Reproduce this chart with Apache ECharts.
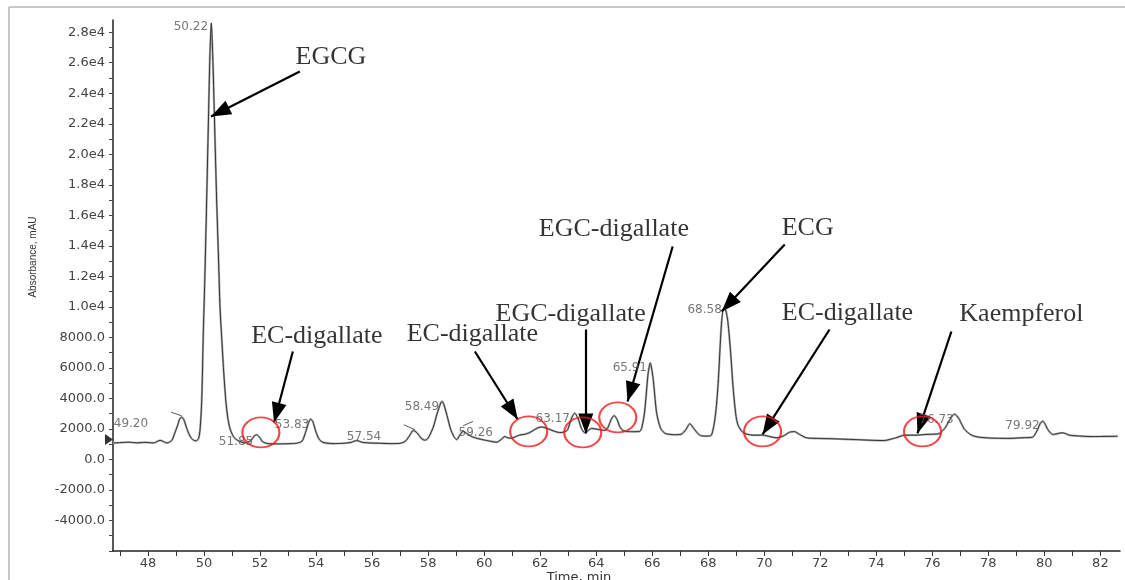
<!DOCTYPE html>
<html>
<head>
<meta charset="utf-8">
<title>Chromatogram</title>
<script src="https://cdn.jsdelivr.net/npm/echarts@6/dist/echarts.min.js"></script>
<style>
  html, body { margin: 0; padding: 0; background: #fff; }
  #chart { width: 1125px; height: 580px; }
</style>
</head>
<body>
<div id="chart"></div>
<script>
// retention time (min) and absorbance (mAU)
const times = [
  46.75, 47.0, 47.3, 47.6, 47.9, 48.2, 48.43, 48.68, 48.85, 48.95, 49.05, 49.12, 49.2, 49.28, 49.38, 49.48,
  49.58, 49.7, 49.8, 49.86, 49.92, 49.97, 50.0, 50.03, 50.1, 50.16, 50.21, 50.26, 50.31, 50.37, 50.45, 50.52,
  50.57, 50.63, 50.7, 50.78, 50.85, 50.93, 51.05, 51.2, 51.45, 51.65, 51.8, 51.88, 51.98, 52.1, 52.3, 52.7,
  53.0, 53.3, 53.5, 53.62, 53.72, 53.8, 53.88, 53.98, 54.1, 54.25, 54.6, 55.0, 55.25, 55.45, 55.65, 55.9,
  56.3, 56.7, 57.0, 57.2, 57.35, 57.47, 57.6, 57.75, 57.88, 58.0, 58.18, 58.32, 58.45, 58.5, 58.58, 58.7,
  58.8, 58.92, 59.02, 59.12, 59.25, 59.38, 59.55, 59.75, 59.96, 60.2, 60.45, 60.6, 60.74, 60.88, 61.03, 61.27,
  61.45, 61.63, 61.81, 62.04, 62.34, 62.5, 62.7, 62.85, 62.98, 63.1, 63.23, 63.35, 63.47, 63.59, 63.72, 63.83,
  64.07, 64.3, 64.42, 64.53, 64.64, 64.75, 64.84, 64.95, 65.08, 65.3, 65.55, 65.63, 65.73, 65.85, 65.93, 66.03,
  66.15, 66.25, 66.33, 66.45, 66.56, 66.8, 67.04, 67.2, 67.34, 67.51, 67.63, 67.75, 67.95, 68.11, 68.25, 68.35,
  68.47, 68.55, 68.62, 68.7, 68.8, 68.88, 68.98, 69.06, 69.24, 69.4, 69.6, 69.95, 70.2, 70.43, 70.6, 70.73,
  70.9, 71.08, 71.25, 71.5, 71.9, 72.33, 73.0, 73.4, 73.9, 74.29, 74.5, 74.71, 75.01, 75.42, 75.78, 76.1,
  76.25, 76.4, 76.49, 76.67, 76.79, 76.94, 77.05, 77.15, 77.39, 77.6, 77.92, 78.3, 78.75, 79.2, 79.58, 79.7,
  79.76, 79.85, 79.94, 80.03, 80.12, 80.3, 80.45, 80.63, 80.75, 80.89, 81.3, 81.72, 82.2, 82.62
];
const absorbance = [
  1080, 1100, 1130, 1090, 1120, 1080, 1250, 1080, 1250, 1700, 2200, 2600, 2780, 2600, 2050, 1600,
  1320, 1220, 1350, 2000, 4000, 8000, 10000, 12000, 17500, 22500, 26500, 28600, 26500, 22500, 17000, 13000,
  10000, 8000, 5800, 3800, 2700, 2000, 1500, 1250, 1080, 1200, 1550, 1620, 1450, 1150, 1040, 1020,
  1030, 1060, 1200, 1750, 2350, 2640, 2500, 1900, 1350, 1120, 1040, 1060, 1120, 1240, 1120, 1080,
  1060, 1040, 1060, 1220, 1600, 1900, 1750, 1400, 1260, 1400, 2100, 3000, 3700, 3800, 3500, 2700,
  2000, 1500, 1300, 1550, 1850, 1700, 1500, 1380, 1290, 1200, 1130, 1300, 1500, 1400, 1420, 1600,
  1650, 1760, 1970, 2130, 1970, 1850, 1760, 1800, 1950, 2600, 3030, 2700, 2050, 1760, 1900, 2030,
  1970, 1900, 2100, 2600, 2880, 2600, 2160, 1900, 1830, 1820, 1840, 2100, 3140, 5570, 6330, 5330,
  3140, 2300, 1950, 1720, 1660, 1620, 1660, 1950, 2340, 1970, 1700, 1550, 1530, 1580, 2800, 4890,
  8820, 9850, 9800, 9040, 7000, 4890, 3000, 2270, 1760, 1650, 1590, 1590, 1500, 1420, 1480, 1590,
  1780, 1830, 1650, 1420, 1380, 1360, 1320, 1290, 1250, 1240, 1320, 1420, 1590, 1590, 1640, 1660,
  1700, 1950, 2160, 2750, 2970, 2700, 2300, 1970, 1600, 1480, 1420, 1390, 1380, 1420, 1460, 1750,
  1970, 2350, 2510, 2300, 1970, 1640, 1680, 1750, 1700, 1590, 1530, 1500, 1510, 1520
];

// axis ticks and labels
const xTicks = [47, 48, 49, 50, 51, 52, 53, 54, 55, 56, 57, 58, 59, 60, 61, 62, 63, 64, 65, 66, 67, 68,
  69, 70, 71, 72, 73, 74, 75, 76, 77, 78, 79, 80, 81, 82];
const xTickLabels = [48, 50, 52, 54, 56, 58, 60, 62, 64, 66, 68, 70, 72, 74, 76, 78, 80, 82];
const yTicks = [-6000, -5000, -4000, -3000, -2000, -1000, 0, 1000, 2000, 3000, 4000, 5000, 6000, 7000,
  8000, 9000, 10000, 11000, 12000, 13000, 14000, 15000, 16000, 17000, 18000, 19000, 20000, 21000,
  22000, 23000, 24000, 25000, 26000, 27000, 28000];
const yTickLabels = [-4000, -2000, 0, 2000, 4000, 6000, 8000, 10000, 12000, 14000, 16000, 18000, 20000,
  22000, 24000, 26000, 28000];

// integrator peak labels (text anchor in data coords)
const peakNames = ['49.20', '50.22', '51.85', '53.83', '57.54', '58.49', '59.26', '63.17', '65.91', '68.58', '76.73', '79.92'];
const peakLabelPos = [[47.39, 2358], [49.53, 28363], [51.14, 1179], [53.14, 2293], [55.71, 1507], [57.78, 3472],
  [59.70, 1769], [62.45, 2686], [65.20, 6027], [67.87, 9826], [76.15, 2620], [79.22, 2227]];

// integration baseline ticks
const baselineMarks = [
  [[48.82, 3100], [49.2, 2860]],
  [[57.13, 2270], [57.53, 1950]],
  [[59.25, 2210], [59.6, 2490]]
];

// compound annotations
const compounds = ['EGCG', 'EC-digallate', 'EC-digallate', 'EGC-digallate', 'EGC-digallate', 'ECG', 'EC-digallate', 'Kaempferol'];
const compoundPos = [[54.53, 26335], [54.03, 8058], [59.58, 8190], [63.09, 9499], [64.63, 15067], [71.55, 15133],
  [72.97, 9565], [79.18, 9499]];
const arrowFrom = [[53.42, 25418], [53.17, 7075], [59.67, 7075], [63.63, 8516], [66.73, 13954], [70.73, 14085],
  [72.33, 8516], [76.68, 8385]];
const arrowTo = [[50.25, 22470], [52.50, 2424], [61.20, 2620], [63.63, 1703], [65.12, 3800], [68.48, 9695],
  [69.94, 1638], [75.47, 1703]];

// red circled regions
const circles = [[52.03, 1769], [61.59, 1834], [63.52, 1769], [64.77, 2752], [69.94, 1834], [75.65, 1834]];

const trace = times.map((t, i) => [t, absorbance[i]]);

const yFmt = (v) => (Math.abs(v) >= 10000 ? (v / 10000).toFixed(1) + 'e4' : v.toFixed(1));

const chart = echarts.init(document.getElementById('chart'));

chart.setOption({
  animation: false,
  backgroundColor: '#fff',
  grid: { left: 113, right: 5, top: 20, bottom: 29 },
  xAxis: {
    type: 'value',
    min: 46.75,
    max: 82.7,
    axisLine: { show: true, onZero: false, lineStyle: { color: '#222', width: 1.5 } },
    axisTick: { show: true, customValues: xTicks, length: 5, lineStyle: { color: '#333' } },
    axisLabel: {
      customValues: xTickLabels, margin: 6,
      fontFamily: 'DejaVu Sans', fontSize: 13, color: '#444'
    },
    splitLine: { show: false }
  },
  yAxis: {
    type: 'value',
    min: -6000,
    max: 28800,
    axisLine: { show: true, onZero: false, lineStyle: { color: '#222', width: 1.5 } },
    axisTick: { show: true, customValues: yTicks, length: 4, lineStyle: { color: '#444' } },
    axisLabel: {
      customValues: yTickLabels, margin: 8, formatter: yFmt,
      fontFamily: 'DejaVu Sans', fontSize: 13, color: '#444'
    },
    splitLine: { show: false }
  },
  graphic: [
    { type: 'line', shape: { x1: 9, y1: 7, x2: 1125, y2: 7 }, style: { stroke: '#c8c8c8', lineWidth: 2 } },
    { type: 'line', shape: { x1: 9, y1: 7, x2: 9, y2: 580 }, style: { stroke: '#c8c8c8', lineWidth: 2 } },
    {
      type: 'text', x: 33, y: 257, rotation: Math.PI / 2,
      style: {
        text: 'Absorbance, mAU', fill: '#333', align: 'center', verticalAlign: 'middle',
        font: '10px "Liberation Sans Narrow", "Liberation Sans", sans-serif'
      }
    },
    {
      type: 'text', x: 579, y: 578,
      style: {
        text: 'Time, min', fill: '#333', align: 'center', verticalAlign: 'middle',
        font: '13px "DejaVu Sans", sans-serif'
      }
    }
  ],
  series: [
    {
      type: 'line',
      data: trace,
      showSymbol: false,
      smooth: 0.25,
      lineStyle: { color: '#b0b0b0', width: 2.2 },
      silent: true,
      z: 2
    },
    {
      type: 'line',
      data: trace,
      showSymbol: false,
      smooth: 0.25,
      lineStyle: { color: '#333', width: 1 },
      silent: true,
      z: 3,
      markLine: {
        silent: true,
        animation: false,
        symbol: ['none', 'triangle'],
        symbolSize: [15, 20],
        symbolOffset: [0, [0, 10]],
        label: { show: false },
        lineStyle: { color: '#000', width: 2.2, type: 'solid' },
        emphasis: { disabled: true },
        data: arrowFrom.map((p, i) => [{ coord: p }, { coord: arrowTo[i] }])
      }
    },
    {
      type: 'lines',
      coordinateSystem: 'cartesian2d',
      data: baselineMarks.map(c => ({ coords: c })),
      lineStyle: { color: '#555', width: 1, opacity: 1 },
      silent: true,
      z: 4
    },
    {
      type: 'scatter',
      data: [[46.75, 1300]],
      symbol: 'triangle',
      symbolSize: [11, 8],
      symbolRotate: -90,
      symbolOffset: [-4, 0],
      itemStyle: { color: '#000' },
      clip: false,
      silent: true,
      z: 5
    },
    {
      type: 'scatter',
      data: peakNames.map((n, i) => ({ name: n, value: peakLabelPos[i] })),
      symbolSize: 0,
      label: {
        show: true, position: 'inside', formatter: '{b}',
        fontFamily: 'DejaVu Sans', fontSize: 12, color: '#555'
      },
      clip: false,
      silent: true,
      z: 6
    },
    {
      type: 'scatter',
      data: circles,
      symbol: 'path://M0,50 A50,50 0 1,1 100,50 A50,50 0 1,1 0,50 Z',
      symbolSize: [37, 30],
      itemStyle: { color: 'rgba(0,0,0,0)', borderColor: '#ee1b1b', borderWidth: 2 },
      silent: true,
      z: 7
    },
    {
      type: 'scatter',
      data: compounds.map((n, i) => ({ name: n, value: compoundPos[i] })),
      symbolSize: 0,
      label: {
        show: true, position: 'inside', formatter: '{b}',
        fontFamily: 'Liberation Serif', fontSize: 26, color: '#000'
      },
      clip: false,
      silent: true,
      z: 9
    }
  ]
});
</script>
</body>
</html>
